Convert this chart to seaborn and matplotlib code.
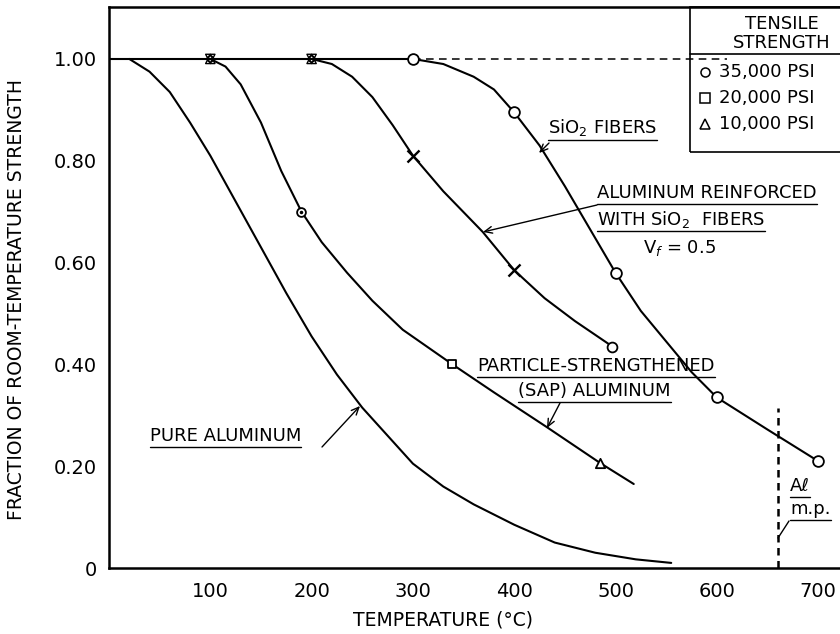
import matplotlib
matplotlib.use("Agg")
import matplotlib.pyplot as plt
import seaborn as sns
import pandas as pd
from matplotlib.lines import Line2D
from matplotlib.patches import Rectangle

# ---------------- data ----------------
flat_T = [0, 300]
flat_v = [1.0, 1.0]
dash_T = [300, 610]
dash_v = [1.0, 1.0]

pure_T = [20, 40, 60, 80, 100, 125, 150, 175, 200, 225, 250, 275, 300, 330, 360, 400, 440, 480, 520, 555]
pure_v = [1.00, 0.975, 0.935, 0.875, 0.81, 0.72, 0.63, 0.54, 0.455, 0.38, 0.315, 0.26, 0.205, 0.16, 0.125, 0.085, 0.05, 0.03, 0.017, 0.01]

sap_T = [100, 115, 130, 150, 170, 190, 210, 235, 260, 290, 339, 380, 432, 485, 518]
sap_v = [1.00, 0.985, 0.95, 0.875, 0.78, 0.70, 0.64, 0.58, 0.525, 0.468, 0.40, 0.345, 0.277, 0.206, 0.165]

alsio2_T = [200, 220, 240, 260, 280, 300, 330, 369, 400, 430, 460, 497]
alsio2_v = [1.00, 0.99, 0.965, 0.925, 0.87, 0.81, 0.74, 0.66, 0.585, 0.53, 0.485, 0.435]

sio2_T = [300, 330, 360, 380, 400, 425, 450, 475, 500, 525, 550, 575, 600, 650, 700]
sio2_v = [1.00, 0.99, 0.965, 0.94, 0.895, 0.83, 0.75, 0.665, 0.58, 0.505, 0.445, 0.385, 0.335, 0.272, 0.21]

sio2_mark_T = [300, 400, 500, 600, 700]
sio2_mark_v = [1.00, 0.895, 0.58, 0.335, 0.21]
alsio2_mark_T = [300, 400]
alsio2_mark_v = [0.81, 0.585]
alsio2_end_T = [497]
alsio2_end_v = [0.435]
star_T = [100, 200]
star_v = [1.0, 1.0]
sap_circle = ([190], [0.70])
sap_square = ([339], [0.40])
sap_tri = ([485], [0.206])

mp_T = [660, 660]
mp_v = [0.0, 0.315]

x_ticks = [100, 200, 300, 400, 500, 600, 700]
y_ticks = [0, 0.2, 0.4, 0.6, 0.8, 1.0]
y_tick_labels = ["0", "0.20", "0.40", "0.60", "0.80", "1.00"]
y_minor = [0.1, 0.3, 0.5, 0.7, 0.9]

# ---------------- style ----------------
sns.set_theme(style="white")
plt.rcParams['font.family'] = ['DejaVu Sans']
W, H = 840, 634
fig = plt.figure(figsize=(W / 100, H / 100), dpi=100)
ax = fig.add_axes([109 / W, 1 - 568 / H, 1 - 109 / W, (568 - 7) / H])
ax.set_xlim(0, 721.6)
ax.set_ylim(0, 1.102)

K = "black"
LW = 1.5

def curve(T, v, **kw):
    sns.lineplot(x=T, y=v, ax=ax, color=K, lw=kw.pop("lw", LW), sort=False,
                 estimator=None, legend=False, **kw)

curve(flat_T, flat_v)
curve(dash_T, dash_v, lw=1.1, linestyle=(0, (5, 3.5)))
curve(pure_T, pure_v)
curve(sap_T, sap_v)
curve(alsio2_T, alsio2_v)
curve(sio2_T, sio2_v)
curve(mp_T, mp_v, lw=1.8, linestyle=(0, (3, 2.2)))

def marks(T, v, marker, s, face="white", lw=1.3, z=6):
    sns.scatterplot(x=T, y=v, ax=ax, marker=marker, s=s, facecolor=face,
                    edgecolor=K, linewidth=lw, zorder=z, legend=False)

marks(sio2_mark_T, sio2_mark_v, "o", 60)
marks(alsio2_end_T, alsio2_end_v, "o", 50)
sns.scatterplot(x=alsio2_mark_T, y=alsio2_mark_v, ax=ax, marker="x", s=75,
                color=K, linewidth=1.7, zorder=6, legend=False)
# superimposed symbols at the start of the SAP / Al-SiO2 drops
marks(star_T, star_v, "^", 45, face="none", lw=1.0)
marks(star_T, star_v, "v", 45, face="none", lw=1.0)
marks(star_T, star_v, "o", 20, face="none", lw=1.0)
marks(*sap_circle, "o", 40)
marks(*sap_circle, ".", 6, face=K)
marks(*sap_square, "s", 40)
marks(*sap_tri, "^", 45)

# ---------------- axes ----------------
for s in ["left", "bottom", "top"]:
    ax.spines[s].set_color(K)
    ax.spines[s].set_linewidth(1.8)
ax.spines["right"].set_visible(False)
ax.set_xticks(x_ticks)
ax.set_xticklabels([str(t) for t in x_ticks])
ax.set_yticks(y_ticks)
ax.set_yticklabels(y_tick_labels)
ax.set_yticks(y_minor, minor=True)
ax.tick_params(axis="both", which="major", direction="in", length=7, width=1.2,
               colors=K, labelsize=14)
ax.tick_params(axis="y", which="minor", direction="in", length=5, width=1.0, colors=K)
ax.tick_params(axis="x", which="major", pad=10)
ax.tick_params(axis="y", which="major", pad=9)
ax.set_xlabel("")
ax.set_ylabel("")

def P(x, y):
    return (x / W, 1 - y / H)

fig.text(*P(17, 300), "FRACTION OF ROOM-TEMPERATURE STRENGTH", rotation=90,
         ha="center", va="center", fontsize=13.5, color=K)
fig.text(*P(443, 620), "TEMPERATURE (°C)", ha="center", va="center",
         fontsize=13.5, color=K)

under = []
def label(x, y, s, size=13, ul=True, ha="left"):
    t = fig.text(*P(x, y), s, ha=ha, va="center", fontsize=size, color=K)
    if ul:
        under.append(t)
    return t

def leader(x0, y0, x1, y1, head=True):
    ax.annotate("", xy=P(x1, y1), xycoords="figure fraction",
                xytext=P(x0, y0), textcoords="figure fraction",
                arrowprops=dict(arrowstyle="->,head_length=0.45,head_width=0.2" if head else "-",
                                color=K, lw=1.0, shrinkA=0, shrinkB=0))

label(548, 128, "SiO$_2$ FIBERS")
leader(549, 143, 539, 153)

label(597, 193, "ALUMINUM REINFORCED")
label(597, 219, "WITH SiO$_2$  FIBERS")
label(643, 248, "V$_f$ = 0.5", ul=False)
leader(597, 205, 483, 232)

label(477, 366, "PARTICLE-STRENGTHENED")
label(518, 391, "(SAP) ALUMINUM")
leader(560, 403, 547, 428)

label(150, 436, "PURE ALUMINUM")
leader(322, 447, 360, 406)

label(790, 486, "Aℓ", size=13)
label(790, 509, "m.p.", size=13)
leader(789, 521, 778, 538, head=False)

# legend box
fig.add_artist(Rectangle(P(690, 152), 170 / W, 145 / H, fill=False, lw=1.2,
                         edgecolor=K, transform=fig.transFigure))
fig.add_artist(Line2D([690 / W, 1], [1 - 54 / H] * 2, color=K, lw=1.2,
                      transform=fig.transFigure))
fig.text(*P(782, 24), "TENSILE", ha="center", va="center", fontsize=13, color=K)
fig.text(*P(782, 43), "STRENGTH", ha="center", va="center", fontsize=13, color=K)
rows = [(72, "35,000 PSI", "o"), (98, "20,000 PSI", "s"), (124, "10,000 PSI", "^")]
for y, s, m in rows:
    fig.add_artist(Line2D([705 / W], [1 - y / H], marker=m, markersize=6.5,
                          markerfacecolor="white", markeredgecolor=K, mew=1.1,
                          linestyle="none", transform=fig.transFigure))
    fig.text(*P(719, y), s, ha="left", va="center", fontsize=13, color=K)

# underlines measured from rendered text
fig.canvas.draw()
r = fig.canvas.get_renderer()
for t in under:
    bb = t.get_window_extent(r)
    yb = bb.y0 - 1.5
    fig.add_artist(Line2D([bb.x0 / W, bb.x1 / W], [yb / H, yb / H], color=K, lw=1.0,
                          transform=fig.transFigure))

fig.savefig("out.png", dpi=100)
